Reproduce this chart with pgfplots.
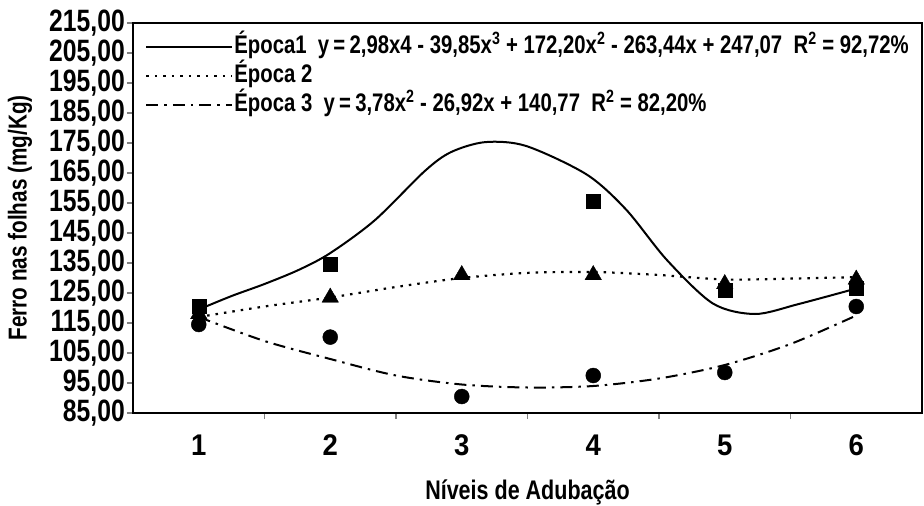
\documentclass[border=0pt]{standalone}
\usepackage{fontspec}
\setmainfont{Liberation Sans}[FakeStretch=0.92]
\newfontfamily\legfont{Liberation Sans}[FakeStretch=0.8]
\usepackage{pgfplots}
\pgfplotsset{compat=1.18}
\begin{document}
\begin{tikzpicture}
\path[use as bounding box] (-133bp,-93bp) rectangle (791bp,413bp);
\begin{axis}[
  at={(0bp,0bp)}, anchor=south west,
  scale only axis, width=789bp, height=390bp,
  xmin=0.5, xmax=6.5, ymin=85, ymax=215,
  axis line style={line width=1.8bp},
  xtick={1,2,3,4,5,6},
  major x tick style={draw=none},
  minor xtick={1.5,2.5,3.5,4.5,5.5},
  minor x tick style={line width=1.2bp},
  minor tick length=6bp,
  ytick={85,95,...,215},
  major tick length=6bp,
  y tick style={line width=1.2bp},
  tick align=outside,
  xtick pos=bottom, ytick pos=left,
  /pgf/number format/assume math mode=true,
  yticklabel style={font=\legfont\bfseries\fontsize{31}{31}\selectfont, inner xsep=2bp, /pgf/number format/.cd, fixed, fixed zerofill, precision=2, use comma, 1000 sep={}},
  xticklabel style={font=\bfseries\fontsize{30}{30}\selectfont, yshift=-12bp},
  ylabel={Ferro nas folhas (mg/Kg)},
  xlabel={Níveis de Adubação},
  every axis y label/.style={at={(axis description cs:0,0.5)}, xshift=-113bp, rotate=90, anchor=center, font=\legfont\bfseries\fontsize{26}{26}\selectfont},
  every axis x label/.style={at={(axis description cs:0.5,0)}, yshift=-79bp, anchor=center, font=\legfont\bfseries\fontsize{27}{27}\selectfont},
  legend cell align=left,
  legend style={draw=none, fill=none, at={(axis description cs:0,1)}, anchor=north west, xshift=12bp, yshift=-11bp,
    font=\legfont\bfseries\fontsize{25.5}{25.5}\selectfont, row sep=4bp, inner xsep=0pt, inner ysep=0pt,
    nodes={inner xsep=1bp, inner ysep=1bp, text height=18bp, text depth=5bp}},
  legend image code/.code={\draw[#1] (0bp,0bp) -- (86bp,0bp);},
  clip=false,
]
% fitted curves
\addplot[black, line width=2bp, smooth, tension=0.5] coordinates {
 (1,119.5) (1.25,124) (1.5,128) (1.76,132.7) (2,138.3) (2.34,149.3) (2.72,165.7) (2.92,172) (3.18,175.3) (3.49,174) (3.95,164.5) (4.25,152.8) (4.56,136) (4.91,121.5) (5.23,118) (5.56,121.3) (6,126.5)};
\addlegendentry{Época1 \ y\,=\,2,98x4 - 39,85x\textsuperscript{3} + 172,20x\textsuperscript{2} - 263,44x + 247,07 \ R\textsuperscript{2} = 92,72\%}
\addplot[black, line width=2.2bp, dash pattern=on 2.5bp off 6bp, smooth, tension=0.5] coordinates {
 (1,117) (1.5,120.5) (2,123.5) (2.5,127) (3,130) (3.5,131.7) (4,132) (4.5,131) (5,129.5) (5.5,129.8) (6,130.3)};
\addlegendentry{Época 2}
\addplot[black, line width=2bp, dash pattern=on 12bp off 6bp on 2.5bp off 6bp, smooth, tension=0.5] coordinates {
 (1,117) (1.5,109) (2,103) (2.5,97.5) (3,94.5) (3.5,93.5) (4,94) (4.5,96.5) (5,101) (5.5,108) (6,117.5)};
\addlegendentry{Época 3 \ y\,=\,3,78x\textsuperscript{2} - 26,92x + 140,77 \ R\textsuperscript{2} = 82,20\%}
% observed values
\addplot[only marks, mark=triangle*, mark size=9.5bp, black, forget plot] coordinates {
 (1,118) (2,123.5) (3,131) (4,131) (5,128) (6,129.5)};
\addplot[only marks, mark=square*, mark size=7bp, black, forget plot] coordinates {
 (1,120.5) (2,134.5) (4,155.5) (5,126) (6,126.5)};
\addplot[only marks, mark=*, mark size=7.5bp, black, forget plot] coordinates {
 (1,114.5) (2,110.3) (3,90.5) (4,97.5) (5,98.5) (6,120.5)};
\end{axis}
\end{tikzpicture}
\end{document}
